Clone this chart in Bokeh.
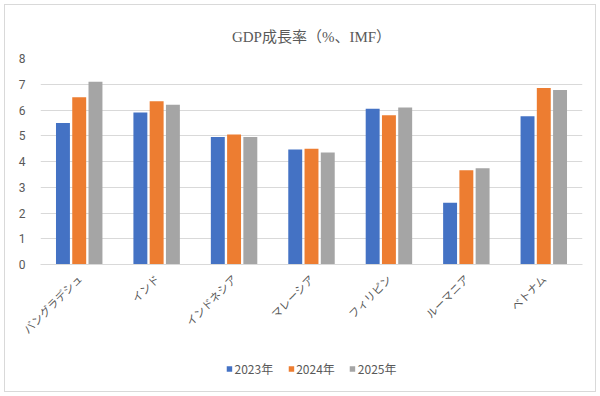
from bokeh.plotting import figure
from bokeh.models import ColumnDataSource, FactorRange, Legend, LegendItem, FixedTicker, Range1d
from bokeh.layouts import column
from bokeh.transform import dodge
from bokeh.embed import file_html
from bokeh.resources import INLINE
import math

countries = ["バングラデシュ", "インド", "インドネシア", "マレーシア", "フィリピン", "ルーマニア", "ベトナム"]
years = ["2023年", "2024年", "2025年"]
gdp_2023 = [5.5, 5.9, 4.95, 4.47, 6.05, 2.4, 5.76]
gdp_2024 = [6.5, 6.34, 5.05, 4.5, 5.8, 3.66, 6.85]
gdp_2025 = [7.1, 6.2, 4.95, 4.35, 6.1, 3.74, 6.78]
y_ticks = [0, 1, 2, 3, 4, 5, 6, 7, 8]

colors = ["#4472C4", "#ED7D31", "#A5A5A5"]
text_color = "#595959"
grid_color = "#D9D9D9"
jp_font = "Noto Sans CJK JP"

src = ColumnDataSource(dict(country=countries, y2023=gdp_2023, y2024=gdp_2024, y2025=gdp_2025))
fields = ["y2023", "y2024", "y2025"]
offsets = [-0.21, 0.0, 0.21]

# main bar chart
p = figure(
    x_range=FactorRange(*countries, range_padding=0),
    y_range=(0, 8),
    width=590, height=347,
    output_backend="svg", toolbar_location=None,
    min_border_left=35, min_border_right=13, min_border_top=53, min_border_bottom=88,
    title="GDP成長率（%、IMF）",
)
p.title.align = "center"
p.title.text_font = "Liberation Serif, Noto Sans CJK JP"
p.title.text_font_size = "15px"
p.title.text_font_style = "normal"
p.title.text_color = text_color
p.title.standoff = 27

for f, off, c in zip(fields, offsets, colors):
    p.vbar(x=dodge("country", off, range=p.x_range), top=f, width=0.18,
           source=src, fill_color=c, line_color=None)

p.outline_line_color = None
p.xgrid.grid_line_color = None
p.ygrid.grid_line_color = grid_color

p.yaxis.ticker = FixedTicker(ticks=y_ticks)
p.yaxis.axis_line_color = None
p.yaxis.major_tick_line_color = None
p.yaxis.minor_tick_line_color = None
p.yaxis.major_label_text_color = text_color
p.yaxis.major_label_text_font = "Roboto"
p.yaxis.major_label_text_font_size = "12px"
p.yaxis.major_label_standoff = 9

p.xaxis.axis_line_color = grid_color
p.xaxis.major_tick_line_color = None
p.xaxis.minor_tick_line_color = None
p.xaxis.major_label_orientation = math.pi / 4
p.xaxis.major_label_text_color = text_color
p.xaxis.major_label_text_font = jp_font
p.xaxis.major_label_text_font_size = "11px"
p.xaxis.major_label_standoff = 6

# legend strip under the chart; its swatch renderers sit well outside the visible range
lg = figure(width=590, height=39, x_range=Range1d(0, 1), y_range=Range1d(0, 1),
            output_backend="svg", toolbar_location=None,
            x_axis_type=None, y_axis_type=None, min_border=0)
lg.outline_line_color = None
lg.grid.grid_line_color = None
items = []
for c, lab in zip(colors, years):
    r = lg.vbar(x=[-50], top=[-50], bottom=[-51], width=0.1, fill_color=c, line_color=None)
    items.append(LegendItem(label=lab, renderers=[r]))
legend = Legend(items=items, orientation="horizontal", location="top_center",
                label_text_font=jp_font, label_text_font_size="12px",
                label_text_color=text_color, glyph_width=7, glyph_height=7,
                spacing=14, label_standoff=2, border_line_color=None,
                background_fill_alpha=0, padding=2, margin=8)
lg.add_layout(legend)

layout = column(p, lg, spacing=0)
layout.margin = (4, 0, 0, 4)
layout.styles = {"border": "1px solid #D9D9D9"}

open("out.html", "w").write(file_html(layout, INLINE))
